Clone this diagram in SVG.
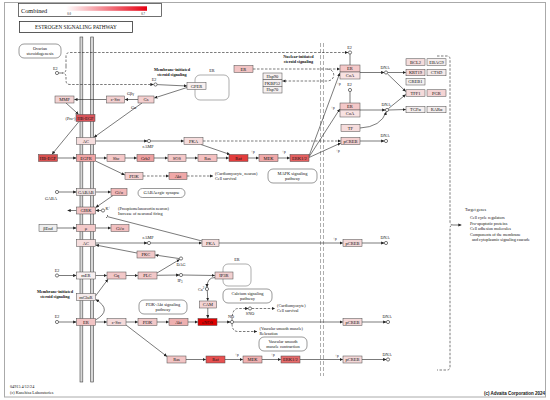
<svg xmlns="http://www.w3.org/2000/svg" width="550" height="400" viewBox="0 0 550 400">
<defs>
<linearGradient id="grad" x1="0" x2="1" y1="0" y2="0"><stop offset="0" stop-color="#ffffff"/><stop offset="1" stop-color="#e60012"/></linearGradient>
<marker id="a" viewBox="0 0 6 6" refX="6" refY="3" markerWidth="3.2" markerHeight="3.2" markerUnits="userSpaceOnUse" orient="auto"><path d="M0,0 L6,3 L0,6 z" fill="#222"/></marker>
<marker id="t" viewBox="0 0 2 8" refX="1" refY="4" markerWidth="0.8" markerHeight="4" markerUnits="userSpaceOnUse" orient="auto"><path d="M1,0 L1,8" stroke="#222" stroke-width="2"/></marker>
</defs>
<style>
text{font-family:"Liberation Serif","Times New Roman",serif;fill:#111}
.n rect{stroke:#4a4a4a;stroke-width:0.5}
.n text{font-size:4.5px;text-anchor:middle}
.c line,.c path{stroke:#222;stroke-width:0.6;fill:none}
.c .d{stroke-dasharray:2.5,1.5}
.ar{marker-end:url(#a)}
.lb{font-size:4.2px}
.sm{font-size:3.4px}
.m{text-anchor:middle}
.b{font-weight:bold}
.cir{fill:#fff;stroke:#222;stroke-width:0.6}
.pw rect{fill:#fff;stroke:#555;stroke-width:0.6}
.pw text{font-size:4.4px;text-anchor:middle}
.mem{fill:#d8d8d8;stroke:#444;stroke-width:0.6}
</style>
<rect x="0" y="0" width="550" height="400" fill="#fff"/>
<rect x="4.5" y="2.5" width="541" height="394.5" fill="none" stroke="#aaa" stroke-width="1"/>
<g id="legend">
<rect x="18.5" y="3.5" width="143" height="13" fill="#fff" stroke="#333" stroke-width="0.7"/>
<text x="21" y="12.5" font-size="6.3">Combined</text>
<rect x="66" y="6.3" width="81" height="4.5" fill="url(#grad)"/>
<text x="69" y="15" font-size="3" fill="#c66" text-anchor="middle">0.0</text>
<text x="143" y="15" font-size="3" fill="#c66" text-anchor="middle">0.7</text>
</g>
<g id="title">
<rect x="19.5" y="21.5" width="113" height="11" fill="#fff" stroke="#333" stroke-width="0.8"/>
<text x="76" y="29.3" font-size="5.2" text-anchor="middle">ESTROGEN SIGNALING PATHWAY</text>
</g>
<g id="membrane">
<rect class="mem" x="80" y="37" width="2.8" height="345"/>
<rect class="mem" x="90.7" y="37" width="2.8" height="345"/>
</g>
<g id="nucleus" stroke="#999" stroke-width="0.8" stroke-dasharray="4,2">
<line x1="320.5" y1="43" x2="320.5" y2="376"/>
<line x1="323.5" y1="43" x2="323.5" y2="376"/>
</g>
<g id="pathways" class="pw">
<g id="p-ovarian"><rect x="19" y="44" width="42" height="14" rx="5"/><text x="40" y="49.8">Ovarian</text><text x="40" y="55.2">steroidogenesis</text></g>
<g id="p-er1"><rect x="195" y="75" width="34" height="25" rx="5" style="stroke:#777"/></g>
<g id="p-mapk"><rect x="268" y="169" width="49" height="14" rx="5"/><text x="292.5" y="174.6">MAPK signaling</text><text x="292.5" y="180">pathway</text></g>
<g id="p-gaba"><rect x="138" y="188.5" width="47" height="9" rx="4.5"/><text x="161.5" y="194.4">GABAergic synapse</text></g>
<g id="p-pi3k"><rect x="139" y="300" width="48" height="14" rx="5"/><text x="163" y="305.6">PI3K-Akt signaling</text><text x="163" y="311">pathway</text></g>
<g id="p-er2"><rect x="223" y="264" width="28" height="22" rx="5" style="stroke:#777"/></g>
<g id="p-calcium"><rect x="223" y="289" width="49" height="14" rx="5"/><text x="247.5" y="294.6">Calcium signaling</text><text x="247.5" y="300">pathway</text></g>
<g id="p-vsmc"><rect x="259" y="337" width="48" height="14" rx="5"/><text x="283" y="342.6">Vascular smooth</text><text x="283" y="348">muscle contraction</text></g>
</g>
<g id="connectors" class="c">
<line x1="58.6" y1="73" x2="62" y2="73"/>
<path class="d" d="M66,66 L66,56 Q66,52.5 70,52.5 L348,52.5" marker-end="url(#a)"/>
<path class="d" d="M66,77 L66,80.5 Q66,84.5 70,84.5 L153.6,84.5" marker-end="url(#a)"/>
<path class="d" d="M66,66 L66,69 Q66,73 62,73 Q66,73 66,77"/>
<line class="ar" x1="157.1" y1="84.6" x2="187" y2="86"/>
<line class="ar" x1="187" y1="87.5" x2="154.3" y2="98"/>
<line class="ar" x1="138" y1="99.5" x2="124.8" y2="99.5"/>
<line class="ar" x1="106.5" y1="99.5" x2="74.3" y2="99.5"/>
<line class="ar" x1="66" y1="103" x2="78.5" y2="114.3"/>
<line class="ar" x1="142" y1="103" x2="94" y2="137.3"/>
<line class="ar" x1="79" y1="121.5" x2="52" y2="154.3"/>
<line class="ar" x1="95.5" y1="141" x2="147.3" y2="141"/>
<line class="ar" x1="150.7" y1="141" x2="183.8" y2="141"/>
<line class="ar" x1="201" y1="144.5" x2="230" y2="154.5"/>
<line class="d ar" x1="203" y1="141" x2="340.8" y2="141"/>
<line class="ar" x1="57.5" y1="158" x2="76.3" y2="158"/>
<line class="ar" x1="95.5" y1="158" x2="106.8" y2="158"/>
<line class="ar" x1="125" y1="158" x2="136.8" y2="158"/>
<line class="ar" x1="154" y1="158" x2="167.8" y2="158"/>
<line class="ar" x1="186" y1="158" x2="197.8" y2="158"/>
<line class="ar" x1="217" y1="158" x2="228.8" y2="158"/>
<line class="ar" x1="248" y1="158" x2="258.8" y2="158"/>
<line class="ar" x1="278" y1="158" x2="289.8" y2="158"/>
<line class="ar" x1="309" y1="156" x2="339.8" y2="73"/>
<line class="ar" x1="309" y1="157" x2="339.8" y2="109"/>
<line class="ar" x1="309" y1="157.5" x2="340.8" y2="143"/>
<line class="ar" x1="95.5" y1="161" x2="124.8" y2="175"/>
<line class="d ar" x1="143" y1="176" x2="168.8" y2="176"/>
<line class="d ar" x1="187" y1="176" x2="213" y2="176"/>
<line class="ar" x1="58.6" y1="192" x2="76.3" y2="192"/>
<line class="ar" x1="95.5" y1="192" x2="110.8" y2="192"/>
<line class="ar" x1="113" y1="195.5" x2="95.7" y2="207.5"/>
<line class="ar" x1="76.5" y1="210.5" x2="67.5" y2="210.5"/>
<line class="ar" x1="101.4" y1="210.5" x2="95.7" y2="210.5"/>
<line x1="202" y1="241" x2="107" y2="216.5" marker-end="url(#t)"/>
<line class="ar" x1="57" y1="228" x2="76.3" y2="228"/>
<line class="ar" x1="95.5" y1="228" x2="110.8" y2="228"/>
<line class="ar" x1="95.5" y1="243" x2="147.3" y2="243"/>
<line class="ar" x1="150.7" y1="243" x2="201.8" y2="243"/>
<line class="ar" x1="219" y1="243" x2="342.8" y2="243"/>
<line class="ar" x1="137" y1="253" x2="95.7" y2="245"/>
<line class="ar" x1="179.4" y1="258.6" x2="155.2" y2="255"/>
<line class="ar" x1="58.6" y1="275.5" x2="76.3" y2="275.5"/>
<line class="ar" x1="95.5" y1="275.5" x2="106.8" y2="275.5"/>
<line class="ar" x1="126" y1="275.5" x2="137.8" y2="275.5"/>
<line class="ar" x1="157" y1="273" x2="179.7" y2="259.4"/>
<line class="ar" x1="157" y1="275.3" x2="179.3" y2="275"/>
<line class="ar" x1="182.7" y1="275" x2="214.8" y2="275.5"/>
<path class="ar" d="M215,277.5 Q207,277.5 207,287.3"/>
<line class="ar" x1="207.3" y1="290.7" x2="207.8" y2="300.8"/>
<line class="ar" x1="207.8" y1="308" x2="207.8" y2="318.3"/>
<line class="ar" x1="95.5" y1="296" x2="108" y2="279.2"/>
<path class="ar" d="M95.5,320 Q113,310 95.8,299.6"/>
<line class="ar" x1="58.6" y1="322" x2="76.3" y2="322"/>
<line class="ar" x1="95.5" y1="322" x2="106.8" y2="322"/>
<line class="ar" x1="126" y1="322" x2="137.8" y2="322"/>
<line class="ar" x1="157" y1="322" x2="168.8" y2="322"/>
<line class="ar" x1="188" y1="322" x2="197.8" y2="322"/>
<line class="ar" x1="217" y1="322" x2="230.3" y2="322"/>
<line class="ar" x1="233.7" y1="322" x2="342.8" y2="322"/>
<path class="d ar" d="M232,320.4 Q232,308.5 238,308.5 L248.3,308.5"/>
<line class="d ar" x1="251.7" y1="308.5" x2="275" y2="308.5"/>
<path class="d ar" d="M232,323.6 Q232,331.5 238,331.5 L257,331.5"/>
<line class="ar" x1="126" y1="325" x2="167" y2="356.5"/>
<line class="ar" x1="186" y1="359.5" x2="205.8" y2="359.5"/>
<line class="ar" x1="225" y1="359.5" x2="242.8" y2="359.5"/>
<line class="ar" x1="262" y1="359.5" x2="280.8" y2="359.5"/>
<line class="ar" x1="300" y1="359.5" x2="342.8" y2="359.5"/>
<line class="ar" x1="360" y1="141" x2="384.3" y2="141"/>
<line class="ar" x1="362" y1="243" x2="384.3" y2="243"/>
<line class="ar" x1="362" y1="322" x2="386.3" y2="322"/>
<line class="ar" x1="362" y1="359.5" x2="386.3" y2="359.5"/>
<line class="d ar" x1="253" y1="69" x2="339.8" y2="69"/>
<path class="d ar" d="M327,69 C336,69 336,81 327,81 L282.3,81"/>
<line x1="350" y1="54.1" x2="350" y2="65"/>
<line x1="350" y1="91.6" x2="350" y2="103"/>
<line class="ar" x1="360" y1="72.5" x2="384.3" y2="72.5"/>
<line class="ar" x1="360" y1="110" x2="385.3" y2="110"/>
<path class="ar" d="M360,128 Q381,127 386.3,111.8"/>
<line class="ar" x1="387.7" y1="72.5" x2="405.8" y2="72.5"/>
<line class="ar" x1="387.4" y1="73.8" x2="405.8" y2="91.5"/>
<line class="ar" x1="388.4" y1="108.6" x2="405.8" y2="94.5"/>
<line class="ar" x1="388.7" y1="110" x2="405.8" y2="109.5"/>
<path class="d" d="M437,56 L447,56 Q450,56 450,59 L450,222 Q450,225 453,225 Q450,225 450,228 L450,367 Q450,370 447,370 L437,370"/>
<line class="ar" x1="453" y1="225" x2="461.5" y2="225"/>
</g>
<g id="nodes" class="n">
<g id="n-MMP"><rect x="55" y="96" width="19" height="7" fill="#f2d2d2"/><text x="64.5" y="101.1">MMP</text></g>
<g id="n-cSrc1"><rect x="106.5" y="96" width="18" height="7" fill="#f2d0d0"/><text x="115.5" y="101.1">c-Src</text></g>
<g id="n-Gs"><rect x="138" y="96" width="16" height="7" fill="#f4d0d0"/><text x="146" y="101.1">Gs</text></g>
<g id="n-GPER"><rect x="187" y="82.5" width="19" height="7" fill="#f8f0f0"/><text x="196.5" y="87.6">GPER</text></g>
<g id="n-HBEGF1"><rect x="76" y="114.5" width="19" height="7" fill="#d9535a"/><text x="85.5" y="119.6">HB-EGF</text></g>
<g id="n-AC1"><rect x="76.5" y="137.5" width="19" height="7" fill="#f6dede"/><text x="86" y="142.6">AC</text></g>
<g id="n-PKA1"><rect x="184" y="137.5" width="19" height="7" fill="#f6dcdc"/><text x="193.5" y="142.6">PKA</text></g>
<g id="n-pCREB1"><rect x="341" y="137.5" width="19" height="7" fill="#f4d0d0"/><text x="350.5" y="142.6">pCREB</text></g>
<g id="n-HBEGF2"><rect x="38.5" y="154.5" width="19" height="7" fill="#d95050"/><text x="48" y="159.6">HB-EGF</text></g>
<g id="n-EGFR"><rect x="76.5" y="154.5" width="19" height="7" fill="#f0a4a4"/><text x="86" y="159.6">EGFR</text></g>
<g id="n-Shc"><rect x="107" y="154.5" width="18" height="7" fill="#f5c8c8"/><text x="116" y="159.6">Shc</text></g>
<g id="n-Grb2"><rect x="137" y="154.5" width="17" height="7" fill="#eea0a0"/><text x="145.5" y="159.6">Grb2</text></g>
<g id="n-SOS"><rect x="168" y="154.5" width="18" height="7" fill="#f5c8c8"/><text x="177" y="159.6">SOS</text></g>
<g id="n-Ras1"><rect x="198" y="154.5" width="19" height="7" fill="#f4c0c0"/><text x="207.5" y="159.6">Ras</text></g>
<g id="n-Raf1"><rect x="229" y="154.5" width="19" height="7" fill="#e23c3c"/><text x="238.5" y="159.6">Raf</text></g>
<g id="n-MEK1"><rect x="259" y="154.5" width="19" height="7" fill="#f0a8a8"/><text x="268.5" y="159.6">MEK</text></g>
<g id="n-ERK1"><rect x="290" y="154.5" width="19" height="7" fill="#e46060"/><text x="299.5" y="159.6">ERK1/2</text></g>
<g id="n-PI3K1"><rect x="125" y="172.5" width="18" height="7" fill="#f5d0d0"/><text x="134" y="177.6">PI3K</text></g>
<g id="n-Akt1"><rect x="169" y="172.5" width="18" height="7" fill="#f0a8a8"/><text x="178" y="177.6">Akt</text></g>
<g id="n-GABAB"><rect x="76.5" y="188.5" width="19" height="7" fill="#ede0e0"/><text x="86" y="193.6">GABAB</text></g>
<g id="n-Gio1"><rect x="111" y="188.5" width="16" height="7" fill="#f2b8b8"/><text x="119" y="193.6">Gi/o</text></g>
<g id="n-GIRK"><rect x="76.5" y="207" width="19" height="7" fill="#f2c4c4"/><text x="86" y="212.1">GIRK</text></g>
<g id="n-bEnd"><rect x="39" y="224.5" width="18" height="7" fill="#eeeeee"/><text x="48" y="229.6">βEnd</text></g>
<g id="n-mu"><rect x="76.5" y="224.5" width="19" height="7" fill="#f3c8c8"/><text x="86" y="229.6">μ</text></g>
<g id="n-Gio2"><rect x="111" y="224.5" width="18" height="7" fill="#f2c0c0"/><text x="120" y="229.6">Gi/o</text></g>
<g id="n-AC2"><rect x="76.5" y="239.5" width="19" height="7" fill="#f6dede"/><text x="86" y="244.6">AC</text></g>
<g id="n-PKA2"><rect x="202" y="239.5" width="17" height="7" fill="#f6dcdc"/><text x="210.5" y="244.6">PKA</text></g>
<g id="n-pCREB2"><rect x="343" y="239.5" width="19" height="7" fill="#f4d8d8"/><text x="352.5" y="244.6">pCREB</text></g>
<g id="n-PKC"><rect x="137" y="251" width="18" height="7" fill="#f2c8c8"/><text x="146" y="256.1">PKC</text></g>
<g id="n-mER"><rect x="76.5" y="272" width="19" height="7" fill="#f8f0f0"/><text x="86" y="277.1">mER</text></g>
<g id="n-Gq"><rect x="107" y="272" width="19" height="7" fill="#f2c8c8"/><text x="116.5" y="277.1">Gq</text></g>
<g id="n-PLC"><rect x="138" y="272" width="19" height="7" fill="#f2c8c8"/><text x="147.5" y="277.1">PLC</text></g>
<g id="n-IP3R"><rect x="215" y="272" width="18" height="7" fill="#f2d0d0"/><text x="224" y="277.1">IP3R</text></g>
<g id="n-mGluR"><rect x="76.5" y="293.5" width="19" height="7" fill="#f4eaea"/><text x="86" y="298.6">mGluR</text></g>
<g id="n-CAM"><rect x="199.5" y="301" width="17" height="7" fill="#f4d4d4"/><text x="208" y="306.1">CAM</text></g>
<g id="n-ER3"><rect x="76.5" y="318.5" width="19" height="7" fill="#f2c4c4"/><text x="86" y="323.6">ER</text></g>
<g id="n-cSrc3"><rect x="107" y="318.5" width="19" height="7" fill="#f4dada"/><text x="116.5" y="323.6">c-Src</text></g>
<g id="n-PI3K2"><rect x="138" y="318.5" width="19" height="7" fill="#f2c8c8"/><text x="147.5" y="323.6">PI3K</text></g>
<g id="n-Akt2"><rect x="169" y="318.5" width="19" height="7" fill="#eeb0b0"/><text x="178.5" y="323.6">Akt</text></g>
<g id="n-eNOS"><rect x="198" y="318.5" width="19" height="7" fill="#e00000"/><text x="207.5" y="323.6">eNOS</text></g>
<g id="n-pCREB3"><rect x="343" y="318.5" width="19" height="7" fill="#f4d8d8"/><text x="352.5" y="323.6">pCREB</text></g>
<g id="n-Ras2"><rect x="167" y="356" width="19" height="7" fill="#f2c4c4"/><text x="176.5" y="361.1">Ras</text></g>
<g id="n-Raf2"><rect x="206" y="356" width="19" height="7" fill="#e85050"/><text x="215.5" y="361.1">Raf</text></g>
<g id="n-MEK2"><rect x="243" y="356" width="19" height="7" fill="#f0b0b0"/><text x="252.5" y="361.1">MEK</text></g>
<g id="n-ERK2"><rect x="281" y="356" width="19" height="7" fill="#e66c6c"/><text x="290.5" y="361.1">ERK1/2</text></g>
<g id="n-pCREB4"><rect x="343" y="356" width="19" height="7" fill="#f4d8d8"/><text x="352.5" y="361.1">pCREB</text></g>
<g id="n-ERleft"><rect x="234" y="65.5" width="19" height="7" fill="#f2c4c4"/><text x="243.5" y="70.6">ER</text></g>
<g id="n-Hsp"><rect x="263" y="73" width="19" height="6.67" fill="#f6f0f0"/><text x="272.5" y="77.9">Hsp90</text><rect x="263" y="79.67" width="19" height="6.67" fill="#f6f0f0"/><text x="272.5" y="84.6">FKBP52</text><rect x="263" y="86.33" width="19" height="6.67" fill="#f6f0f0"/><text x="272.5" y="91.2">Hsp70</text></g>
<g id="n-ERCoA1"><rect x="340" y="65" width="20" height="7" fill="#f4c8c8"/><text x="350" y="70.1">ER</text><rect x="340" y="72" width="20" height="7" fill="#f8e2e2"/><text x="350" y="77.1">CoA</text></g>
<g id="n-ERCoA2"><rect x="340" y="103" width="20" height="7" fill="#f4c8c8"/><text x="350" y="108.1">ER</text><rect x="340" y="110" width="20" height="7" fill="#f8e2e2"/><text x="350" y="115.1">CoA</text></g>
<g id="n-TF"><rect x="341" y="124.5" width="19" height="7" fill="#f6dcdc"/><text x="350.5" y="129.6">TF</text></g>
<g id="n-BCL2"><rect x="406" y="58.75" width="19" height="6.5" fill="#f4dcdc"/><text x="415.5" y="63.6">BCL2</text></g>
<g id="n-EBAG9"><rect x="427" y="58.75" width="19" height="6.5" fill="#f4eeee"/><text x="436.5" y="63.6">EBAG9</text></g>
<g id="n-KRT19"><rect x="406" y="69.25" width="19" height="6.5" fill="#f4d8d8"/><text x="415.5" y="74.1">KRT19</text></g>
<g id="n-CTSD"><rect x="427" y="69.25" width="19" height="6.5" fill="#f4eaea"/><text x="436.5" y="74.1">CTSD</text></g>
<g id="n-GREB1"><rect x="406" y="78.5" width="19" height="6.5" fill="#f4f0f0"/><text x="415.5" y="83.4">GREB1</text></g>
<g id="n-TFF1"><rect x="406" y="89.75" width="19" height="6.5" fill="#f4dada"/><text x="415.5" y="94.6">TFF1</text></g>
<g id="n-PGR"><rect x="427" y="89.75" width="19" height="6.5" fill="#f4d4d4"/><text x="436.5" y="94.6">PGR</text></g>
<g id="n-TGFa"><rect x="406" y="106.25" width="19" height="6.5" fill="#f4eeee"/><text x="415.5" y="111.1">TGFα</text></g>
<g id="n-RARa"><rect x="427" y="106.25" width="19" height="6.5" fill="#f4eeee"/><text x="436.5" y="111.1">RARα</text></g>
</g>
<g id="compounds">
<circle class="cir" cx="57" cy="73" r="1.6"/><text class="lb" x="53" y="70">E2</text>
<circle class="cir" cx="155.5" cy="84.5" r="1.6"/><text class="lb m" x="154" y="81">E2</text>
<circle class="cir" cx="350" cy="52.5" r="1.6"/><text class="lb m" x="349.5" y="48.5">E2</text>
<circle class="cir" cx="350" cy="90" r="1.6"/><text class="lb m" x="349.5" y="86">E2</text>
<circle class="cir" cx="57" cy="275.5" r="1.6"/><text class="lb m" x="57" y="271.5">E2</text>
<circle class="cir" cx="57" cy="322" r="1.6"/><text class="lb m" x="57" y="318">E2</text>
<circle class="cir" cx="57" cy="192" r="1.6"/><text class="lb m" x="51" y="199.5">GABA</text>
<circle class="cir" cx="149" cy="141" r="1.6"/><text class="lb m" x="148" y="148">cAMP</text>
<circle class="cir" cx="149" cy="243" r="1.6"/><text class="lb m" x="148" y="238.5">cAMP</text>
<circle class="cir" cx="103" cy="210.5" r="1.6"/><text class="lb" x="105.5" y="210">K<tspan font-size="3" dy="-1.5">+</tspan></text>
<circle class="cir" cx="181" cy="258.5" r="1.6"/><text class="lb m" x="181" y="265.5">DAG</text>
<circle class="cir" cx="181" cy="275" r="1.6"/><text class="lb m" x="180" y="282">IP<tspan font-size="3" dy="1">3</tspan></text>
<circle class="cir" cx="207" cy="289" r="1.6"/><text class="lb" x="198" y="290.5">Ca<tspan font-size="3" dy="-1.5">2+</tspan></text>
<circle class="cir" cx="232" cy="322" r="1.6"/><text class="lb m" x="231" y="318">NO</text>
<circle class="cir" cx="250" cy="308.5" r="1.6"/><text class="lb m" x="250" y="314.8">SNO</text>
<circle class="cir" cx="386" cy="72.5" r="1.6"/><text class="lb m" x="385" y="68.5">DNA</text>
<circle class="cir" cx="387" cy="110" r="1.6"/><text class="lb m" x="386" y="106">DNA</text>
<circle class="cir" cx="386" cy="141" r="1.6"/><text class="lb m" x="385" y="137">DNA</text>
<circle class="cir" cx="386" cy="243" r="1.6"/><text class="lb m" x="385" y="239">DNA</text>
<circle class="cir" cx="388" cy="322" r="1.6"/><text class="lb m" x="387" y="318">DNA</text>
<circle class="cir" cx="388" cy="359.5" r="1.6"/><text class="lb m" x="387" y="355.5">DNA</text>
</g>
<g id="labels">
<text class="lb" x="127" y="94.5">Gβγ</text>
<text class="lb" x="131" y="109">Gα</text>
<text class="lb" x="75.5" y="120" text-anchor="end">(Pro-)</text>
<text class="lb b m" x="172" y="70.5">Membrane-initiated</text>
<text class="lb b m" x="172" y="76">steroid signaling</text>
<text class="lb m" x="212" y="72">ER</text>
<text class="lb m" x="237" y="261">ER</text>
<text class="lb b m" x="298.5" y="57.5">Nuclear-initiated</text>
<text class="lb b m" x="298.5" y="62.8">steroid signaling</text>
<text class="lb b m" x="55" y="292.5">Membrane-initiated</text>
<text class="lb b m" x="55" y="297.8">steroid signaling</text>
<text class="lb" x="215" y="175.2">(Cardiomyocyte, neuron)</text>
<text class="lb" x="215" y="180.2">Cell survival</text>
<text class="lb" x="118" y="209.5">(Proopiomelanocortin neuron)</text>
<text class="lb" x="118" y="214.5">Increase of neuronal firing</text>
<text class="lb" x="277" y="307">(Cardiomyocyte)</text>
<text class="lb" x="277" y="312">Cell survival</text>
<text class="lb" x="259.5" y="330">(Vascular smooth muscle)</text>
<text class="lb" x="259.5" y="335">Relaxation</text>
<text class="sm" x="251" y="152.5">+p</text>
<text class="sm" x="282" y="152.5">+p</text>
<text class="sm" x="337" y="84.5">+p</text>
<text class="sm" x="331" y="109">+p</text>
<text class="sm" x="336" y="151.5">+p</text>
<text class="sm" x="333" y="239.5">+p</text>
<text class="sm" x="235" y="355.5">+p</text>
<text class="sm" x="271" y="355.5">+p</text>
<text class="sm" x="335" y="357">+p</text>
<text class="lb" x="465" y="211">Target genes</text>
<text class="lb" x="470" y="219">Cell cycle regulators</text>
<text class="lb" x="470" y="224.5">Pro-apoptotic proteins</text>
<text class="lb" x="470" y="230">Cell adhesion molecules</text>
<text class="lb" x="470" y="235.5">Components of the membrane</text>
<text class="lb" x="472" y="241">and cytoplasmic signaling cascade</text>
<text class="lb" x="10" y="388">04915 4/12/24</text>
<text class="lb" x="10" y="393.5">(c) Kanehisa Laboratories</text>
<text x="545" y="395" font-size="4.5" font-weight="bold" text-anchor="end" style="font-family:'Liberation Sans',Arial,sans-serif">(c) Advaita Corporation 2024</text>
</g>
</svg>
